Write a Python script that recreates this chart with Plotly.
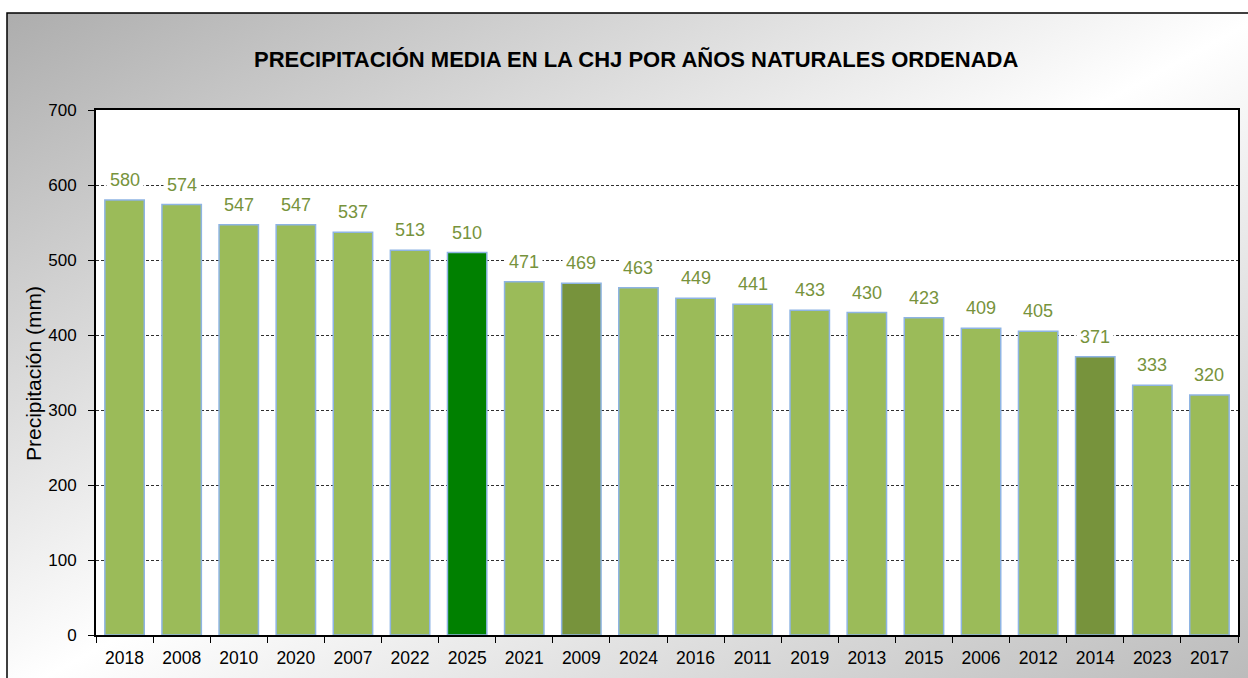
import plotly.graph_objects as go
import urllib.parse

years = ["2018", "2008", "2010", "2020", "2007", "2022", "2025", "2021", "2009", "2024",
         "2016", "2011", "2019", "2013", "2015", "2006", "2012", "2014", "2023", "2017"]
values = [580, 574, 547, 547, 537, 513, 510, 471, 469, 463,
          449, 441, 433, 430, 423, 409, 405, 371, 333, 320]
highlight_current = "2025"
highlight_dark = ["2009", "2014"]

base_color = "#9BBB59"
current_color = "#008000"
dark_color = "#77933C"
colors = [current_color if y == highlight_current else (dark_color if y in highlight_dark else base_color)
          for y in years]

W, H = 1248, 678
ml, mr, mt, mb = 96, 10, 110, 43
pw, ph = W - ml - mr, H - mt - mb

def px2x(px):
    return (px - ml) / pw

def py2y(py):
    return (H - mb - py) / ph

FONT = "Arial, Liberation Sans, sans-serif"

fig = go.Figure()
fig.add_trace(go.Bar(
    x=years, y=values,
    marker=dict(color=colors, line=dict(color="#8EB4E3", width=1.5)),
    hoverinfo="x+y",
))

# Data labels with white background (x given as category index)
for i, v in enumerate(values):
    fig.add_annotation(x=i, y=v, xref="x", yref="y", text=str(v), showarrow=False, yshift=20,
                       yanchor="middle", bgcolor="white", borderpad=3,
                       font=dict(family=FONT, size=18, color="#77933C"))

svg = ('<svg xmlns="http://www.w3.org/2000/svg" width="100" height="100" preserveAspectRatio="none" viewBox="0 0 100 100">'
       '<defs><linearGradient id="g" x1="0" y1="0" x2="1" y2="1">'
       '<stop offset="0" stop-color="#adadad"/><stop offset="0.5" stop-color="#ffffff"/>'
       '<stop offset="1" stop-color="#b8b8b8"/></linearGradient></defs>'
       '<rect width="100" height="100" fill="url(#g)"/></svg>')
src = "data:image/svg+xml;charset=utf-8," + urllib.parse.quote(svg)

fig.add_layout_image(dict(source=src, xref="paper", yref="paper",
                          x=px2x(7), y=py2y(13), sizex=(W + 20 - 7) / pw, sizey=(H + 20 - 13) / ph,
                          xanchor="left", yanchor="top", sizing="stretch", layer="below"))

# white plot area
fig.add_shape(type="rect", xref="paper", yref="paper", x0=0, y0=0, x1=1, y1=1,
              fillcolor="white", line=dict(width=0), layer="below")
# outer frame
fig.add_shape(type="rect", xref="paper", yref="paper", x0=px2x(7), y0=py2y(H + 20),
              x1=px2x(W + 20), y1=py2y(13), line=dict(color="black", width=1.5),
              fillcolor="rgba(0,0,0,0)", layer="above")

fig.add_annotation(text="<b>PRECIPITACIÓN MEDIA EN LA CHJ POR AÑOS NATURALES ORDENADA</b>",
                   xref="paper", yref="paper", x=px2x(636), y=py2y(60), showarrow=False,
                   xanchor="center", yanchor="middle",
                   font=dict(family=FONT, size=22, color="black"))
fig.add_annotation(text="Precipitación (mm)", xref="paper", yref="paper", x=px2x(33), y=py2y(374),
                   textangle=-90, showarrow=False, xanchor="center", yanchor="middle",
                   font=dict(family=FONT, size=21, color="black"))

fig.update_layout(
    width=W, height=H,
    margin=dict(l=ml, r=mr, t=mt, b=mb, autoexpand=False),
    paper_bgcolor="white", plot_bgcolor="rgba(0,0,0,0)",
    bargap=0.31, showlegend=False,
    font=dict(family=FONT, size=17, color="black"),
)
fig.update_xaxes(type="category", range=[-0.5, len(years) - 0.5], autorange=False,
                 showline=True, linecolor="black", linewidth=2, mirror=True,
                 ticks="outside", tickson="boundaries", ticklen=6, tickcolor="black",
                 showgrid=False, tickangle=0, automargin=False, ticklabelstandoff=6,
                 tickfont=dict(size=17.5))
fig.update_yaxes(range=[0, 700], autorange=False, dtick=100, showline=True, linecolor="black",
                 linewidth=2, mirror=True,
                 ticks="outside", ticklen=6, tickcolor="black", showgrid=True,
                 gridcolor="#303030", gridwidth=1, griddash="3px,2px", zeroline=False,
                 automargin=False, ticklabelstandoff=8, tickfont=dict(size=17))

fig.write_html("out.html", config={"displayModeBar": False},
               post_script="document.body.style.margin='0';document.body.style.overflow='hidden';")
